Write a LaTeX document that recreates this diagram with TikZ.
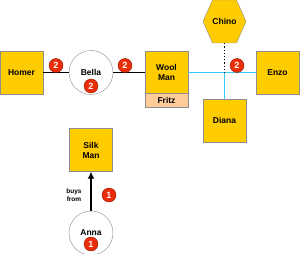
\documentclass[tikz,border=0pt]{standalone}
\usepackage{fontspec}
\setmainfont{Liberation Sans}
\usetikzlibrary{arrows.meta}
\definecolor{boxyellow}{RGB}{255,204,0}
\definecolor{boxgrey}{RGB}{140,140,140}
\definecolor{peach}{RGB}{255,204,153}
\definecolor{linkblue}{RGB}{51,204,255}
\definecolor{badgered}{RGB}{235,45,10}

\begin{document}
\begin{tikzpicture}[
  x=1pt, y=-1pt,
  person/.style={rectangle, draw=boxgrey, fill=boxyellow, minimum width=43pt,
                 minimum height=43pt, align=center, inner sep=0pt,
                 font=\bfseries\fontsize{8.5}{10}\selectfont},
  ring/.style={circle, draw=boxgrey, fill=white, minimum size=44pt, inner sep=0pt,
               font=\bfseries\fontsize{8.5}{10}\selectfont},
  badge/.style={circle, fill=badgered, draw=badgered!60!black, line width=0.4pt,
                minimum size=14pt, inner sep=0pt, text=white,
                font=\bfseries\fontsize{9}{9}\selectfont},
  tie/.style={line width=1.5pt},
  link/.style={line width=1.5pt, draw=linkblue}
]
\useasboundingbox (0,0) rectangle (300,254);

% top row
\node[person] (homer) at (21.5,72.5) {Homer};
\node[ring] (bella) at (91,72.5) {Bella};
\node[person, minimum height=42pt] (wool) at (166.5,72.5) {Wool\\Man};
\node[person, fill=peach, minimum height=14pt] (fritz) at (166.5,100.5) {Fritz};
\node[person] (enzo) at (277.5,72.5) {Enzo};
\node[person] (diana) at (224.5,120.5) {Diana};

% hexagon behind Chino
\fill[boxyellow, draw=boxgrey] (203,21.5) -- (212.5,0) -- (236.5,0) -- (246,21.5)
  -- (236.5,43) -- (212.5,43) -- cycle;
\node[font=\bfseries\fontsize{8.5}{10}\selectfont, minimum width=43pt,
      minimum height=43pt, inner sep=0pt] (chino) at (224.5,21.5) {Chino};

\coordinate (jn) at (224.5,72.5);
\draw[tie] (homer.east) -- (bella.west);
\draw[tie] (bella.east) -- (wool.west);
\draw[link] (wool.east) -- (enzo.west);
\draw[link] (jn) -- (diana.north);
\draw[line width=1.2pt, dotted] (chino.south) -- (jn);

\node[badge] (b1) at (56,65.5) {2};
\node[badge] (b2) at (125,65.5) {2};
\node[badge] (b3) at (91,86) {2};
\node[badge] (b4) at (237,65.5) {2};

% bottom part
\node[person] (silk) at (91,150) {Silk\\Man};
\node[ring] (anna) at (91,233) {Anna};
\draw[line width=2pt, -{Latex[length=7pt, width=7pt]}] (anna.north) -- (silk.south);
\node[align=center, font=\bfseries\fontsize{6.5}{8}\selectfont] (buys) at (74,195.5) {buys\\from};
\node[badge] (b5) at (109,195) {1};
\node[badge] (b6) at (91,244) {1};
\end{tikzpicture}
\end{document}
